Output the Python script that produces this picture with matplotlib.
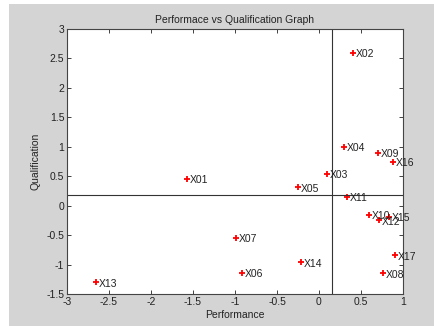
import matplotlib
matplotlib.use("Agg")
import matplotlib.pyplot as plt
from matplotlib.patches import Rectangle

names = ["X01", "X02", "X03", "X04", "X05", "X06", "X07", "X08", "X09",
         "X10", "X11", "X12", "X13", "X14", "X15", "X16", "X17"]
performance = [-1.57, 0.40, 0.09, 0.30, -0.25, -0.92, -0.99, 0.76, 0.70,
               0.59, 0.33, 0.71, -2.66, -0.21, 0.83, 0.885, 0.91]
qualification = [0.46, 2.60, 0.54, 1.00, 0.31, -1.14, -0.55, -1.15, 0.90,
                 -0.15, 0.15, -0.25, -1.30, -0.96, -0.19, 0.75, -0.84]
x_ref = 0.15
y_ref = 0.18

plt.rcParams['font.family'] = ['Liberation Sans', 'DejaVu Sans']
fig = plt.figure(figsize=(4.35, 3.26), dpi=100, facecolor='white')
fig.patches.append(Rectangle((9/435, 0), 1, 1 - 4/326, transform=fig.transFigure,
                             facecolor='#d4d4d4', edgecolor='none', zorder=-10))
ax = fig.add_axes([67/435, 1 - 294/326, (403-67)/435, (294-29)/326])
ax.set_facecolor('white')

ax.plot(performance, qualification, linestyle='none', marker='+', color='red',
        markersize=5, markeredgewidth=1.3)
for n, x, y in zip(names, performance, qualification):
    ax.annotate(n, (x, y), xytext=(2, -1), textcoords='offset points',
                ha='left', va='center', fontsize=7.5, color='#222222')

ax.axvline(x_ref, color='#333333', linewidth=0.8)
ax.axhline(y_ref, color='#333333', linewidth=0.8)

ax.set_xlim(-3, 1)
ax.set_ylim(-1.5, 3)
ax.set_xticks([-3, -2.5, -2, -1.5, -1, -0.5, 0, 0.5, 1])
ax.set_yticks([-1.5, -1, -0.5, 0, 0.5, 1, 1.5, 2, 2.5, 3])
ax.set_xticklabels(['-3', '-2.5', '-2', '-1.5', '-1', '-0.5', '0', '0.5', '1'])
ax.set_yticklabels(['-1.5', '-1', '-0.5', '0', '0.5', '1', '1.5', '2', '2.5', '3'])
ax.tick_params(direction='in', top=True, right=True, length=3, width=0.6,
               labelsize=7.5, colors='#222222', pad=2)
for s in ax.spines.values():
    s.set_color('#444444')
    s.set_linewidth(0.8)

ax.set_title('Performace vs Qualification Graph', fontsize=7.5, color='#222222', pad=4)
ax.set_xlabel('Performance', fontsize=7.5, color='#222222', labelpad=2)
ax.set_ylabel('Qualification', fontsize=7.5, color='#222222', labelpad=4)

fig.savefig('out.png', dpi=100, facecolor=fig.get_facecolor())
